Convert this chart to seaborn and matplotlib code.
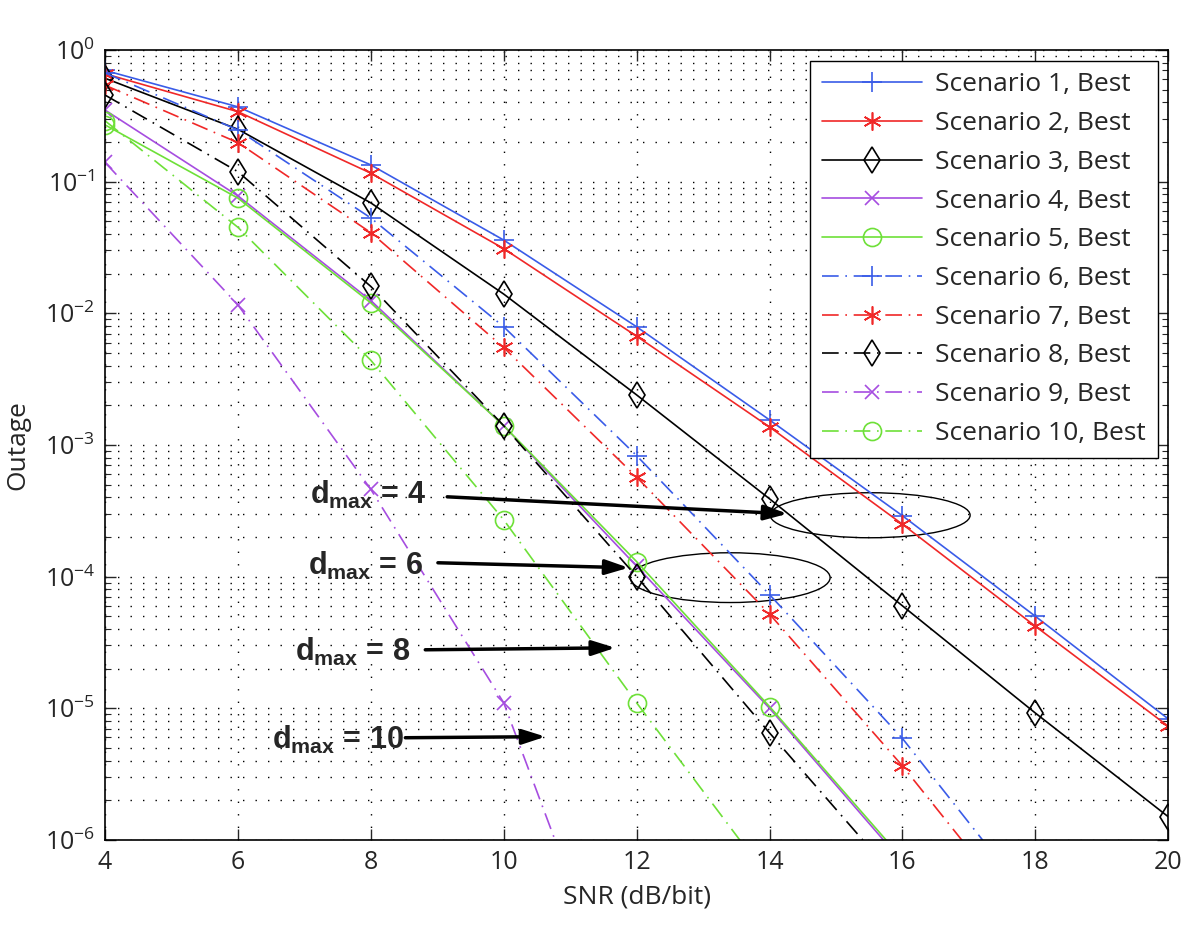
import numpy as np
import pandas as pd
import matplotlib
matplotlib.use("Agg")
import matplotlib.pyplot as plt
from matplotlib.patches import Ellipse
import seaborn as sns

# SNR grid (dB/bit) and outage values
snr = [4, 6, 8, 10, 12, 14, 16, 18, 20]

scenario_1 = [0.70, 0.37, 0.134, 0.036, 7.9e-3, 1.55e-3, 2.9e-4, 5.0e-5, 8.3e-6]
scenario_2 = [0.66, 0.34, 0.116, 0.031, 6.7e-3, 1.37e-3, 2.5e-4, 4.2e-5, 7.3e-6]
scenario_3 = [0.61, 0.25, 0.069, 0.014, 2.4e-3, 3.9e-4, 6.0e-5, 9.2e-6, 1.5e-6]
scenario_4 = [0.35, 0.078, 0.0125, 1.4e-3, 1.2e-4, 1.0e-5, 6.8e-7]
scenario_5 = [0.27, 0.075, 0.012, 1.4e-3, 1.3e-4, 1.03e-5, 7.2e-7]
scenario_6 = [0.67, 0.247, 0.053, 7.9e-3, 8.3e-4, 7.3e-5, 5.9e-6, 3.1e-7]
scenario_7 = [0.54, 0.198, 0.041, 5.5e-3, 5.7e-4, 5.2e-5, 3.65e-6, 2.0e-7]
scenario_8 = [0.455, 0.119, 0.016, 1.4e-3, 1.0e-4, 6.5e-6, 4.5e-7]
scenario_9 = [0.14, 0.0116, 4.6e-4, 1.1e-5, 2.2e-8]
scenario_10 = [0.29, 0.045, 4.4e-3, 2.7e-4, 1.1e-5, 5.0e-7]

series = [scenario_1, scenario_2, scenario_3, scenario_4, scenario_5,
          scenario_6, scenario_7, scenario_8, scenario_9, scenario_10]
labels = [f"Scenario {i}, Best" for i in range(1, 11)]

y_ticks = [1e-6, 1e-5, 1e-4, 1e-3, 1e-2, 1e-1, 1e0]
dmax_labels = ["4", "6", "8", "10"]

# styles
BLUE, RED, BLACK, PURPLE, GREEN = "#3a5ce8", "#f02828", "#000000", "#a64de0", "#6ee038"
colors = [BLUE, RED, BLACK, PURPLE, GREEN] * 2
ASTERISK = (6, 2, 0)
markers = ["+", ASTERISK, "d", "x", "o"] * 2
marker_sizes = [14, 13, 13, 10, 13] * 2
DASHDOT = (0, (10, 4, 1, 4))
linestyles = ["-"] * 5 + [DASHDOT] * 5

sns.set_style("ticks")
plt.rcParams["font.family"] = ["Open Sans", "DejaVu Sans"]
plt.rcParams["mathtext.fontset"] = "custom"
plt.rcParams["mathtext.rm"] = "Open Sans"
plt.rcParams["mathtext.it"] = "Open Sans:italic"
plt.rcParams["mathtext.bf"] = "Open Sans:bold"

fig = plt.figure(figsize=(12, 9.26), dpi=100)
ax = fig.add_axes([0.0875, 0.093, 0.886, 0.853])

for vals, label, color, marker, ms, ls in zip(series, labels, colors, markers,
                                                marker_sizes, linestyles):
    df = pd.DataFrame({"snr": snr[:len(vals)], "outage": vals})
    sns.lineplot(data=df, x="snr", y="outage", ax=ax, label=label,
                 color=color, linestyle=ls, linewidth=1.2,
                 marker=marker, markersize=ms, markerfacecolor="none",
                 markeredgecolor=color, markeredgewidth=1.2)

ax.set_yscale("log")
ax.set_xlim(4, 20)
ax.set_ylim(1e-6, 1)
ax.set_xticks(np.arange(4, 21, 2))
ax.set_yticks(y_ticks)
ax.set_xlabel("SNR (dB/bit)", fontsize=19)
ax.set_ylabel("Outage", fontsize=19)
ax.xaxis.set_label_coords(0.5, -0.057)
ax.yaxis.set_label_coords(-0.07, 0.5)
ax.tick_params(axis="both", which="major", direction="in", length=8,
               width=1, labelsize=18, top=True, right=True, pad=7)
ax.tick_params(axis="y", which="minor", direction="in", length=4,
               width=0.8, right=True)
ax.tick_params(axis="x", which="minor", bottom=False, top=False)
for sp in ax.spines.values():
    sp.set_linewidth(1.2)
    sp.set_color("black")

grid_ls = (0, (1, 8))
ax.grid(True, which="major", linestyle=grid_ls, color="black", linewidth=1.0)
ax.grid(True, which="minor", axis="y", linestyle=grid_ls, color="black", linewidth=1.0)
ax.set_axisbelow(True)

handles, hl = ax.get_legend_handles_labels()
leg = ax.legend(handles, hl, loc="upper right", fontsize=19, frameon=True,
                fancybox=False, framealpha=1, edgecolor="black",
                handlelength=3.8, labelspacing=0.52, borderaxespad=0.4,
                borderpad=0.45, handletextpad=0.5)
leg.get_frame().set_linewidth(1.0)

# d_max annotations (text position, arrow start, arrow end) in data coords
text_pos = [(7.09, 10 ** -3.379), (7.06, 10 ** -3.918), (6.86, 10 ** -4.571), (6.52, 10 ** -5.239)]
arrow_from = [(9.15, 10 ** -3.394), (9.01, 10 ** -3.895), (8.82, 10 ** -4.556), (8.52, 10 ** -5.224)]
arrow_to = [(14.27, 10 ** -3.523), (11.88, 10 ** -3.933), (11.68, 10 ** -4.541), (10.63, 10 ** -5.216)]

for lab, tp, a0, a1 in zip(dmax_labels, text_pos, arrow_from, arrow_to):
    ax.text(tp[0], tp[1], r"d$_{\mathregular{max}}$ = " + lab, fontsize=22,
            family="Liberation Sans", fontweight="bold", va="center", ha="left")
    ax.annotate("", xy=a1, xytext=a0,
                arrowprops=dict(arrowstyle="-|>,head_length=1.4,head_width=0.45",
                                color="black", lw=2.5, shrinkA=0, shrinkB=0))

ax.add_patch(Ellipse((0.7197, 0.411), 0.188, 0.057, transform=ax.transAxes,
                     fill=False, edgecolor="black", linewidth=1.0))
ax.add_patch(Ellipse((0.588, 0.332), 0.188, 0.063, transform=ax.transAxes,
                     fill=False, edgecolor="black", linewidth=1.0))

fig.savefig("out.png", dpi=100)
